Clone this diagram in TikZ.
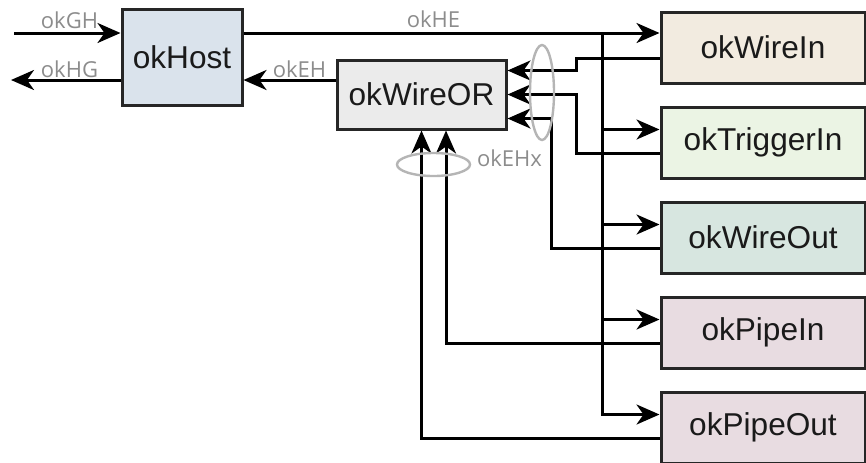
\documentclass[tikz,border=0pt]{standalone}
\usepackage{fontspec}
\setmainfont{Liberation Sans}
\newfontfamily\labelfont{Open Sans}
\usepackage{tikz}
\usetikzlibrary{arrows.meta, positioning, shapes.geometric}
\definecolor{textblack}{RGB}{26,26,26}
\definecolor{edgegray}{RGB}{38,38,38}
\definecolor{siggray}{RGB}{140,140,140}
\definecolor{ringgray}{RGB}{181,181,181}
\definecolor{hostblue}{RGB}{218,227,236}
\definecolor{orgray}{RGB}{235,235,235}
\definecolor{wireinbeige}{RGB}{242,235,224}
\definecolor{triggergreen}{RGB}{235,244,228}
\definecolor{wireoutteal}{RGB}{215,230,224}
\definecolor{pipepink}{RGB}{232,220,225}

\begin{document}
\begin{tikzpicture}[
  x=0.5pt, y=-0.5pt,
  node distance=10.5pt,
  every node/.style={font=\fontsize{15.8pt}{18pt}\selectfont, text=textblack},
  block/.style={rectangle, draw=edgegray, line width=1.5pt, inner sep=0pt},
  endpoint/.style={block, minimum width=102pt, minimum height=35.5pt},
  arrow/.style={-{Stealth[length=11.5pt, width=10pt, inset=3.5pt]}, line width=1.5pt},
  backarrow/.style={{Stealth[length=11.5pt, width=10pt, inset=3.5pt]}-, line width=1.5pt},
  wire/.style={line width=1.5pt},
  sig/.style={font=\labelfont\fontsize{11pt}{13pt}\selectfont, text=siggray,
              anchor=base, inner sep=0pt},
  group/.style={ellipse, draw=ringgray, line width=1.2pt, inner sep=0pt}
]
\useasboundingbox (0,0) rectangle (866,462);

%--- Host side ---%
\node[block, fill=hostblue, minimum width=60pt, minimum height=48pt] (host) at (182,57) {okHost};
\node[block, fill=orgray, minimum width=84.5pt, minimum height=34.5pt] (wireor) at (421.5,94.5) {okWireOR};

%--- Endpoints (right column) ---%
\node[endpoint, fill=wireinbeige]                   (wirein)  at (763,47.5) {okWireIn};
\node[endpoint, fill=triggergreen, below=of wirein]  (trigin)  {okTriggerIn};
\node[endpoint, fill=wireoutteal,  below=of trigin]  (wireout) {okWireOut};
\node[endpoint, fill=pipepink,     below=of wireout] (pipein)  {okPipeIn};
\node[endpoint, fill=pipepink,     below=of pipein]  (pipeout) {okPipeOut};

%--- Outside world ---%
\coordinate (ghsrc) at (14,33);
\coordinate (hgdst) at (11,80);
\coordinate (bus)   at (602,33);
\coordinate (busend) at ([yshift=6.5pt]pipeout.west);

\draw[arrow] (ghsrc) -- ([yshift=12pt]host.west);
\draw[arrow] ([yshift=-11.5pt]host.west) -- (hgdst);

%--- okHE bus ---%
\draw[arrow] ([yshift=12pt]host.east) -- ([yshift=12pt]host.east -| wirein.west);
\draw[wire] (bus) -- (bus |- busend);
\foreach \blk in {trigin, wireout, pipein, pipeout}
  \draw[backarrow] ([yshift=6.5pt]\blk.west) -- ++(-59,0);

%--- Returns into okWireOR ---%
\draw[arrow] ([yshift=-5.5pt]wirein.west)  -- ++(-83,0)  |- ([yshift=12pt]wireor.east);
\draw[arrow] ([yshift=-5.5pt]trigin.west)  -- ++(-83,0)  |- (wireor.east);
\draw[arrow] ([yshift=-5.5pt]wireout.west) -- ++(-108,0) |- ([yshift=-12pt]wireor.east);
\draw[arrow] ([yshift=-5.5pt]pipein.west)  -| ([xshift=12.25pt]wireor.south);
\draw[arrow] ([yshift=-5.5pt]pipeout.west) -| (wireor.south);

\draw[arrow] ([yshift=7.25pt]wireor.west) -- ([yshift=-11.5pt]host.east);

%--- Bundles ---%
\node[group, minimum width=12pt, minimum height=47.5pt]   (ringR) at (542,92.5) {};
\node[group, minimum width=36.5pt, minimum height=11.5pt] (ringB) at (433.5,164.5) {};

%--- Signal labels ---%
\node[sig] (lGH)  at (69.5,28)  {okGH};
\node[sig] (lHG)  at (69.5,77)  {okHG};
\node[sig] (lEH)  at (299.5,77) {okEH};
\node[sig] (lHE)  at (433.5,27) {okHE};
\node[sig] (lEHx) at (509.5,166) {okEHx};

\end{tikzpicture}
\end{document}
